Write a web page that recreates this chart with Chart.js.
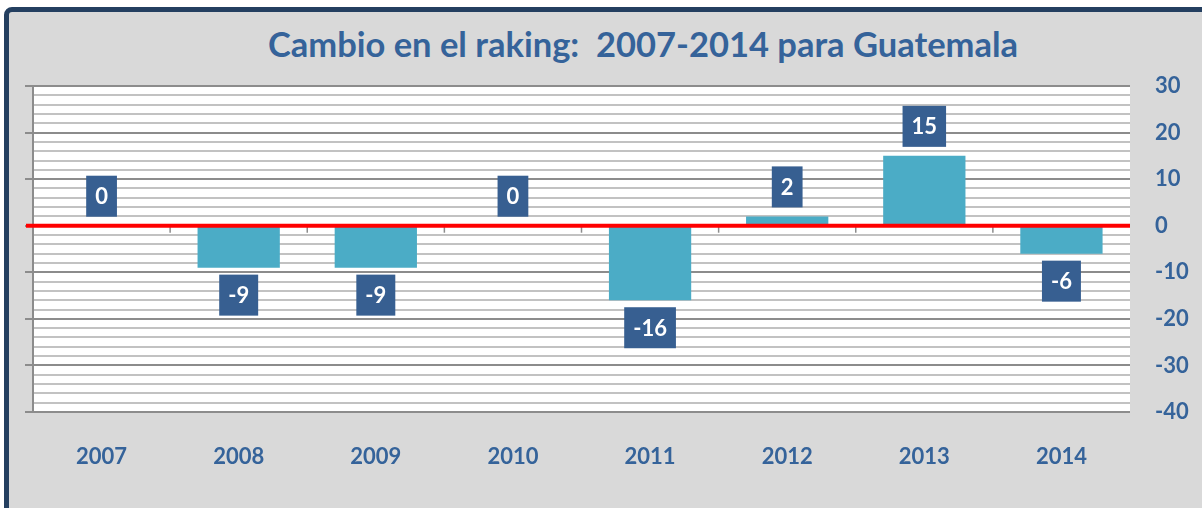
<!DOCTYPE html>
<html>
<head>
<meta charset="utf-8">
<script src="https://cdn.jsdelivr.net/npm/chart.js@4.4.1/dist/chart.umd.min.js"></script>
<style>
  html, body { margin: 0; padding: 0; background: #fff; overflow: hidden; width: 1202px; height: 508px; }
  #frame { position: absolute; left: 4px; top: 7px; width: 1230px; height: 530px; background: #d9d9d9;
           border: 5px solid #243f60; border-radius: 8px; box-sizing: border-box; }
  #title { position: absolute; left: 0; top: 23px; width: 1286px; text-align: center;
           font: bold 34.5px Lato, sans-serif; color: #35639a; line-height: 42px; white-space: pre; }
  #chart { position: absolute; left: 0; top: 0; }
</style>
</head>
<body>
<div id="frame"></div>
<div id="title">Cambio en el raking:  2007-2014 para Guatemala</div>
<canvas id="chart" width="1202" height="508"></canvas>
<script>
// Données
const years = ["2007", "2008", "2009", "2010", "2011", "2012", "2013", "2014"];
const rankChange = [0, -9, -9, 0, -16, 2, 15, -6];
const yMin = -40;
const yMax = 30;

const textBlue = "#35639a";
const boxBlue = "#375f91";
const barColor = "#4bacc6";

// Fond blanc de la zone de tracé
const plotBackground = {
  id: "plotBackground",
  beforeDraw(chart) {
    const { ctx, chartArea } = chart;
    ctx.save();
    ctx.fillStyle = "#ffffff";
    ctx.fillRect(chartArea.left, chartArea.top, chartArea.right - chartArea.left, chartArea.bottom - chartArea.top);
    ctx.restore();
  }
};

// Ligne rouge du zéro + petites marques de catégories
const zeroLine = {
  id: "zeroLine",
  afterDatasetsDraw(chart) {
    const { ctx, chartArea, scales } = chart;
    const y0 = scales.y.getPixelForValue(0);
    const xs = scales.x;
    ctx.save();
    ctx.strokeStyle = "#8c8c8c";
    ctx.lineWidth = 1.5;
    for (let i = 1; i < years.length; i++) {
      const bx = (xs.getPixelForValue(i - 1) + xs.getPixelForValue(i)) / 2;
      ctx.beginPath();
      ctx.moveTo(bx, y0);
      ctx.lineTo(bx, y0 + 7);
      ctx.stroke();
    }
    ctx.strokeStyle = "#ff0000";
    ctx.lineWidth = 4;
    ctx.beginPath();
    ctx.moveTo(chartArea.left - 7, y0);
    ctx.lineTo(chartArea.right, y0);
    ctx.stroke();
    ctx.restore();
  }
};

// Étiquettes de valeurs dans des boîtes bleues
const valueBoxes = {
  id: "valueBoxes",
  afterDatasetsDraw(chart) {
    const { ctx } = chart;
    const meta = chart.getDatasetMeta(0);
    ctx.save();
    ctx.font = "bold 22px Lato, sans-serif";
    ctx.textAlign = "center";
    ctx.textBaseline = "middle";
    meta.data.forEach((bar, i) => {
      const v = rankChange[i];
      const txt = String(v);
      const w = ctx.measureText(txt).width + 18;
      const h = 41;
      const top = v >= 0 ? bar.y - 9 - h : bar.y + 7;
      ctx.fillStyle = boxBlue;
      ctx.fillRect(bar.x - w / 2, top, w, h);
      ctx.fillStyle = "#ffffff";
      ctx.fillText(txt, bar.x, top + h / 2 + 1);
    });
    ctx.restore();
  }
};

const config = {
  type: "bar",
  data: {
    labels: years,
    datasets: [{
      data: rankChange,
      backgroundColor: barColor,
      barPercentage: 0.6,
      categoryPercentage: 1.0
    }]
  },
  options: {
    responsive: false,
    animation: false,
    layout: { padding: { top: 86, left: 0, right: 0, bottom: 0 } },
    plugins: { legend: { display: false }, tooltip: { enabled: false }, title: { display: false } },
    scales: {
      x: {
        position: "bottom",
        grid: { display: false },
        border: { display: false },
        ticks: { color: textBlue, font: { family: "Lato", size: 22, weight: "bold" }, padding: 24 },
        afterFit(scale) { scale.height = 96; }
      },
      y: {
        position: "right",
        min: yMin,
        max: yMax,
        grid: {
          drawTicks: false,
          lineWidth: 2,
          color: (c) => (c.tick && c.tick.value % 10 === 0 ? "#8c8c8c" : "#c2c2c2")
        },
        border: { display: false },
        ticks: {
          stepSize: 2,
          maxTicksLimit: 100,
          autoSkip: false,
          padding: 25,
          color: textBlue,
          font: { family: "Lato", size: 22, weight: "bold" },
          callback: (v) => (v % 10 === 0 ? v : "")
        },
        afterFit(scale) { scale.width = 72; }
      },
      yl: {
        position: "left",
        min: yMin,
        max: yMax,
        grid: { drawOnChartArea: false, drawTicks: true, tickLength: 8, color: "#8c8c8c", lineWidth: 2 },
        border: { color: "#8c8c8c", width: 2 },
        ticks: { stepSize: 10, maxTicksLimit: 100, autoSkip: false, display: false },
        afterFit(scale) { scale.width = 33; }
      }
    }
  },
  plugins: [plotBackground, zeroLine, valueBoxes]
};

new Chart(document.getElementById("chart").getContext("2d"), config);
</script>
</body>
</html>
